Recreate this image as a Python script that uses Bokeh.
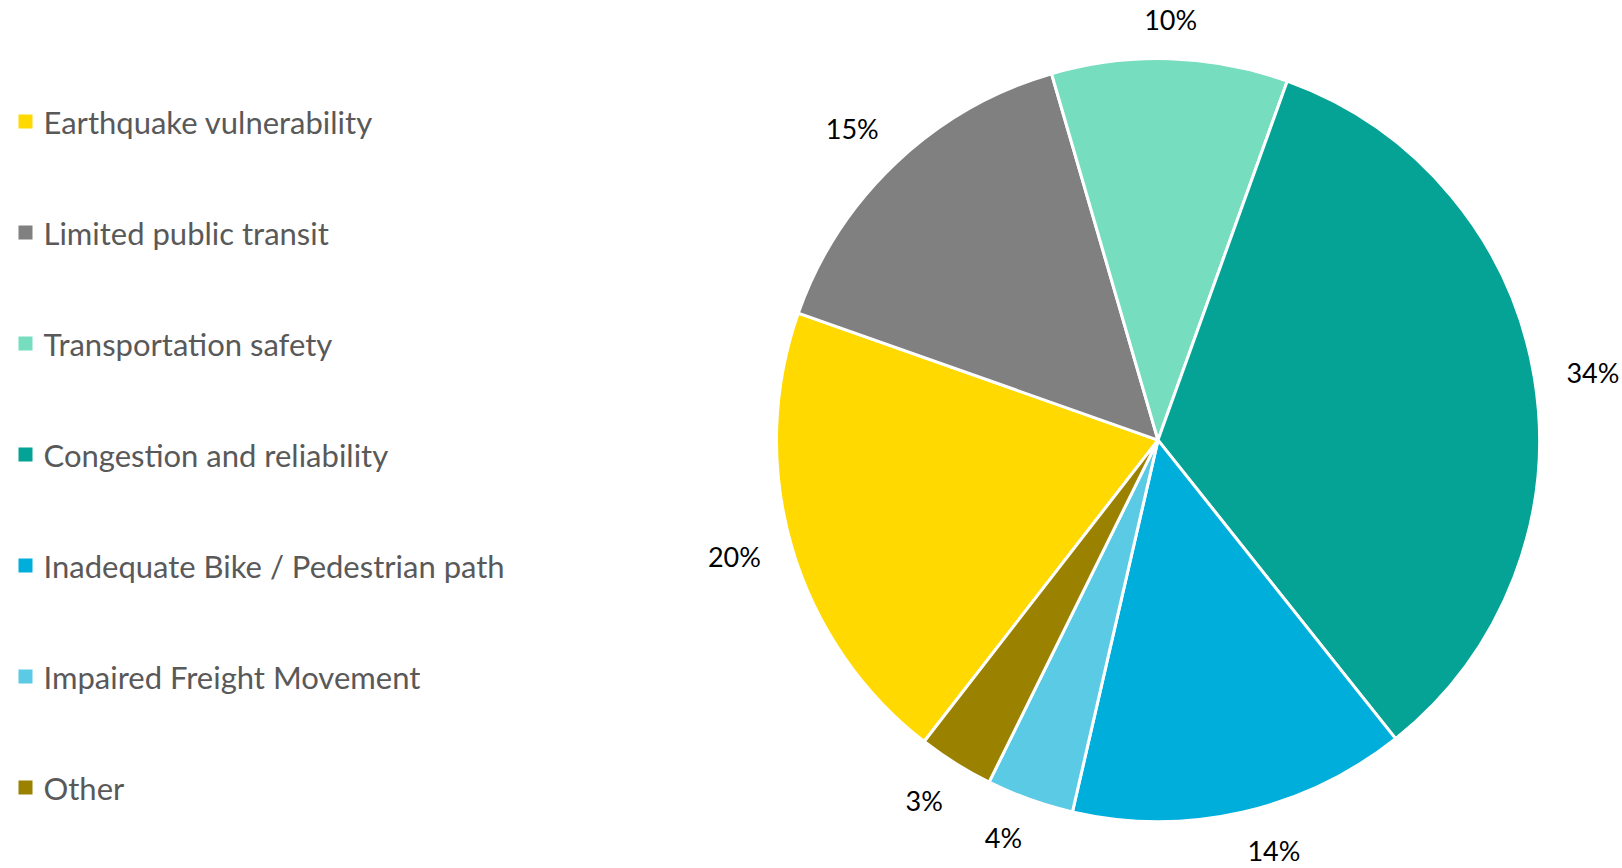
import math
from bokeh.plotting import figure
from bokeh.models import ColumnDataSource
from bokeh.core.properties import value
from bokeh.embed import file_html
from bokeh.resources import INLINE

categories = ["Earthquake vulnerability", "Limited public transit", "Transportation safety",
              "Congestion and reliability", "Inadequate Bike / Pedestrian path",
              "Impaired Freight Movement", "Other"]
shares = [19.9, 15.1, 10.0, 33.8, 14.3, 3.7, 3.2]
labels = ["20%", "15%", "10%", "34%", "14%", "4%", "3%"]
colors = ["#FFD900", "#808080", "#76DDBF", "#04A396", "#00AEDB", "#5BCAE4", "#9A8200"]

W, H = 1622, 868
TOP = 868
p = figure(width=W, height=H, output_backend="svg", toolbar_location=None,
           x_range=(0, W), y_range=(TOP - H, TOP), min_border=0,
           outline_line_color=None)
p.axis.visible = False
p.grid.visible = False
p.background_fill_color = "white"
p.border_fill_color = "white"

cx, cy = 1157.5, TOP - 439.6
R = 381.5
start0 = math.radians(90 - 217.8)

total = sum(shares)
starts, ends, lx, ly, aligns, bases = [], [], [], [], [], []
a = start0
for v in shares:
    span = 2 * math.pi * v / total
    s, e = a, a - span
    starts.append(e)
    ends.append(s)
    mid = (s + e) / 2
    c, sn = math.cos(mid), math.sin(mid)
    rl = R * 1.085 - (10 * abs(sn) if abs(sn) >= 0.35 else 0)
    lx.append(cx + rl * c)
    ly.append(cy + rl * sn)
    aligns.append("left" if c > 0.1 else ("right" if c < -0.1 else "center"))
    bases.append("middle" if abs(sn) < 0.35 else ("bottom" if sn > 0 else "top"))
    a = e

src = ColumnDataSource(dict(start=starts, end=ends, color=colors, cat=categories))
p.wedge(x=cx, y=cy, radius=R, start_angle="start", end_angle="end", fill_color="color",
        line_color="white", line_width=3, source=src)

lsrc = ColumnDataSource(dict(x=lx, y=ly, t=labels, al=aligns, bl=bases))
p.text(x="x", y="y", text="t", text_align="al", text_baseline="bl", source=lsrc,
       text_font=value("Lato"), text_font_size="27px", text_color="#000000")

# legend
leg_y = [TOP - (121 + i * 111) for i in range(len(categories))]
legsrc = ColumnDataSource(dict(y=leg_y, c=colors, t=categories))
p.scatter(x=25, y="y", marker="square", size=14, fill_color="c", line_color=None, source=legsrc)
p.text(x=43, y="y", text="t", text_baseline="middle", text_align="left", source=legsrc,
       text_font=value("Lato"), text_font_size="31px", text_color="#595959")

open("out.html", "w").write(file_html(p, INLINE))
